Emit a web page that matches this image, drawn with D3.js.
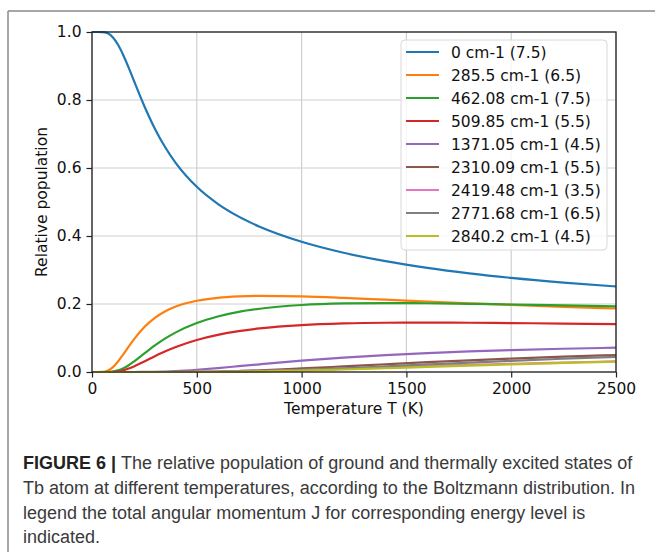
<!DOCTYPE html>
<html>
<head>
<meta charset="utf-8">
<script src="https://cdn.jsdelivr.net/npm/d3@7"></script>
<style>
  body { margin: 0; background: #fff; }
  svg { display: block; }
</style>
</head>
<body>
<svg id="chart" width="655" height="552"></svg>
<script>
var temps = [0, 25, 50, 75, 100, 125, 150, 175, 200, 250, 300, 350, 400, 500, 600, 700, 800, 1000, 1200, 1400, 1600, 1800, 2000, 2250, 2500];

var labels = ["0 cm-1 (7.5)", "285.5 cm-1 (6.5)", "462.08 cm-1 (7.5)", "509.85 cm-1 (5.5)",
  "1371.05 cm-1 (4.5)", "2310.09 cm-1 (5.5)", "2419.48 cm-1 (3.5)", "2771.68 cm-1 (6.5)", "2840.2 cm-1 (4.5)"];

var colors = ["#1f77b4", "#ff7f0e", "#2ca02c", "#d62728", "#9467bd", "#8c564b", "#e377c2", "#7f7f7f", "#bcbd22"];

var lvl0 = [1, 1, 0.9998, 0.9962, 0.9841, 0.9618, 0.9310, 0.8950, 0.8566, 0.7817, 0.7156, 0.6602, 0.6144, 0.5446, 0.4946, 0.4569, 0.4273, 0.3830, 0.3508, 0.3260, 0.3063, 0.2902, 0.2768, 0.2630, 0.2516];
var lvl285 = [0, 0, 0.0002, 0.0036, 0.0142, 0.0315, 0.0527, 0.0749, 0.0961, 0.1323, 0.1592, 0.1786, 0.1925, 0.2095, 0.2182, 0.2223, 0.2238, 0.2223, 0.2180, 0.2127, 0.2073, 0.2021, 0.1972, 0.1917, 0.1868];
var lvl462 = [0, 0, 0, 0.0001, 0.0013, 0.0047, 0.0111, 0.0200, 0.0308, 0.0547, 0.0780, 0.0988, 0.1166, 0.1441, 0.1633, 0.1768, 0.1861, 0.1970, 0.2016, 0.2028, 0.2022, 0.2006, 0.1985, 0.1957, 0.1929];
var lvl509 = [0, 0, 0, 0, 0.0005, 0.0020, 0.0053, 0.0102, 0.0164, 0.0312, 0.0465, 0.0609, 0.0736, 0.0942, 0.1092, 0.1202, 0.1281, 0.1379, 0.1428, 0.1448, 0.1452, 0.1448, 0.1439, 0.1424, 0.1407];
var lvl1371 = [0, 0, 0, 0, 0, 0, 0, 0, 0, 0.0002, 0.0006, 0.0015, 0.0028, 0.0066, 0.0115, 0.0171, 0.0227, 0.0333, 0.0424, 0.0498, 0.0558, 0.0606, 0.0645, 0.0684, 0.0714];
var lvl2310 = [0, 0, 0, 0, 0, 0, 0, 0, 0, 0, 0, 0, 0.0001, 0.0005, 0.0015, 0.0030, 0.0050, 0.0104, 0.0165, 0.0228, 0.0288, 0.0343, 0.0394, 0.0450, 0.0499];
var lvl2419 = [0, 0, 0, 0, 0, 0, 0, 0, 0, 0, 0, 0, 0.0001, 0.0003, 0.0008, 0.0016, 0.0028, 0.0059, 0.0096, 0.0136, 0.0174, 0.0210, 0.0243, 0.0280, 0.0313];
var lvl2771 = [0, 0, 0, 0, 0, 0, 0, 0, 0, 0, 0, 0, 0, 0.0002, 0.0006, 0.0013, 0.0026, 0.0062, 0.0111, 0.0165, 0.0222, 0.0277, 0.0330, 0.0391, 0.0447];
var lvl2840 = [0, 0, 0, 0, 0, 0, 0, 0, 0, 0, 0, 0, 0, 0.0001, 0.0003, 0.0008, 0.0016, 0.0040, 0.0073, 0.0110, 0.0149, 0.0187, 0.0224, 0.0267, 0.0307];

var series = [lvl0, lvl285, lvl462, lvl509, lvl1371, lvl2310, lvl2419, lvl2771, lvl2840];

var xTicks = [0, 500, 1000, 1500, 2000, 2500];
var yTicks = [0, 0.2, 0.4, 0.6, 0.8, 1.0];

var captionLines = [
  "Tb atom at different temperatures, according to the Boltzmann distribution. In",
  "legend the total angular momentum J for corresponding energy level is",
  "indicated."
];

var svg = d3.select("#chart");
var font = "'DejaVu Sans', sans-serif";

// page frame (top and left rules)
svg.append("line").attr("x1", 8).attr("x2", 655).attr("y1", 11).attr("y2", 11)
  .attr("stroke", "#8a8a8a").attr("stroke-width", 1.5);
svg.append("line").attr("x1", 8).attr("x2", 8).attr("y1", 11).attr("y2", 552)
  .attr("stroke", "#8a8a8a").attr("stroke-width", 1.5);

var plotL = 92, plotR = 616, plotT = 32, plotB = 372;

var x = d3.scaleLinear().domain([0, 2500]).range([plotL, plotR]);
var y = d3.scaleLinear().domain([0, 1]).range([plotB, plotT]);

var g = svg.append("g");

// grid
g.selectAll(".gx").data(xTicks).enter().append("line")
  .attr("x1", function(d) { return x(d); }).attr("x2", function(d) { return x(d); })
  .attr("y1", plotT).attr("y2", plotB)
  .attr("stroke", "#cfcfcf").attr("stroke-width", 1.2);
g.selectAll(".gy").data(yTicks).enter().append("line")
  .attr("x1", plotL).attr("x2", plotR)
  .attr("y1", function(d) { return y(d); }).attr("y2", function(d) { return y(d); })
  .attr("stroke", "#cfcfcf").attr("stroke-width", 1.2);

// curves
var line = d3.line()
  .x(function(d, i) { return x(temps[i]); })
  .y(function(d) { return y(d); })
  .curve(d3.curveMonotoneX);

g.selectAll(".curve").data(series).enter().append("path")
  .attr("class", "curve")
  .attr("d", line)
  .attr("fill", "none")
  .attr("stroke", function(d, i) { return colors[i]; })
  .attr("stroke-width", 2.2);

// axes
var xAxis = d3.axisBottom(x).tickValues(xTicks).tickFormat(d3.format("d")).tickSize(5.5).tickPadding(5);
var yAxis = d3.axisLeft(y).tickValues(yTicks).tickFormat(d3.format(".1f")).tickSize(5.5).tickPadding(5);

var gx = svg.append("g").attr("transform", "translate(0," + plotB + ")").call(xAxis);
var gy = svg.append("g").attr("transform", "translate(" + plotL + ",0)").call(yAxis);
[gx, gy].forEach(function(a) {
  a.select(".domain").remove();
  a.selectAll(".tick line").attr("stroke", "#222").attr("stroke-width", 1.2);
  a.selectAll(".tick text").attr("fill", "#111").style("font-family", font).style("font-size", "15.5px");
});

// spines
svg.append("rect").attr("x", plotL).attr("y", plotT).attr("width", plotR - plotL).attr("height", plotB - plotT)
  .attr("fill", "none").attr("stroke", "#222").attr("stroke-width", 1.3);

// axis labels
svg.append("text").attr("x", (plotL + plotR) / 2).attr("y", 414)
  .attr("text-anchor", "middle").attr("fill", "#111")
  .style("font-family", font).style("font-size", "15.5px")
  .text("Temperature T (K)");
svg.append("text").attr("transform", "translate(47," + ((plotT + plotB) / 2) + ") rotate(-90)")
  .attr("text-anchor", "middle").attr("fill", "#111")
  .style("font-family", font).style("font-size", "15.5px")
  .text("Relative population");

// legend
var lg = svg.append("g");
lg.append("rect").attr("x", 401).attr("y", 40).attr("width", 206).attr("height", 210)
  .attr("rx", 4).attr("fill", "#fff").attr("fill-opacity", 0.8)
  .attr("stroke", "#d8d8d8").attr("stroke-width", 1);
var rows = lg.selectAll(".row").data(labels).enter().append("g")
  .attr("transform", function(d, i) { return "translate(0," + (52 + 23 * i) + ")"; });
rows.append("line").attr("x1", 406).attr("x2", 439).attr("y1", 0).attr("y2", 0)
  .attr("stroke", function(d, i) { return colors[i]; }).attr("stroke-width", 2.2);
rows.append("text").attr("x", 451).attr("y", 5.5).attr("fill", "#111")
  .style("font-family", font).style("font-size", "15.5px")
  .text(function(d) { return d; });

// caption
var capFont = "'Liberation Sans', Arial, sans-serif";
var c1 = svg.append("text").attr("x", 23).attr("y", 469).attr("fill", "#3a3a3a")
  .style("font-family", capFont).style("font-size", "18px");
c1.append("tspan").style("font-weight", "bold").attr("fill", "#222").text("FIGURE 6 | ");
c1.append("tspan").text("The relative population of ground and thermally excited states of");

svg.selectAll(".cap").data(captionLines).enter().append("text")
  .attr("x", 23).attr("y", function(d, i) { return 494 + 24.5 * i; })
  .attr("fill", "#3a3a3a")
  .style("font-family", capFont).style("font-size", "18px")
  .text(function(d) { return d; });
</script>
</body>
</html>
